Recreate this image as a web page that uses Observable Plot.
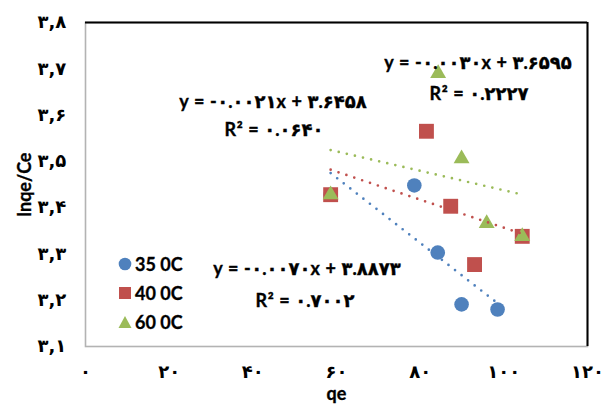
<!DOCTYPE html>
<html>
<head>
<meta charset="utf-8">
<script src="https://cdn.jsdelivr.net/npm/d3@7"></script>
<script src="https://cdn.jsdelivr.net/npm/@observablehq/plot@0.6"></script>
<style>
  body { margin: 0; background: #fff; }
  #wrap { position: relative; width: 605px; height: 407px; overflow: hidden; }
  .ann { position: absolute; transform: translate(-50%, -50%); white-space: nowrap;
         font-family: Lato, "DejaVu Sans", sans-serif; font-weight: bold; font-size: 18px; letter-spacing: 0.6px;
         color: #000; direction: ltr; -webkit-text-stroke: 0.35px #000; }
  .leg { position: absolute; display: flex; align-items: center; font-family: Lato, "DejaVu Sans", sans-serif;
         font-weight: bold; font-size: 18px; color: #000; -webkit-text-stroke: 0.3px #000; }
  .leg svg { margin-right: 3px; }
  svg g[aria-label="x-axis tick label"] text {
    font-family: "DejaVu Sans", sans-serif; font-size: 18px; font-weight: bold; }
  svg g[aria-label="x-axis label"] text, svg g[aria-label="y-axis label"] text {
    font-family: Lato, "DejaVu Sans", sans-serif; font-size: 18px; font-weight: bold; stroke: #000; stroke-width: 0.35px; }
</style>
</head>
<body>
<div id="wrap"></div>
<script>
// ---- data ----
const xTicks = [0, 20, 40, 60, 80, 100, 120];
const xTickLabels = ["۰", "۲۰", "۴۰", "۶۰", "۸۰", "۱۰۰", "۱۲۰"];
const yTicks = [3.1, 3.2, 3.3, 3.4, 3.5, 3.6, 3.7, 3.8];
const yTickLabels = ["۳,۱", "۳,۲", "۳,۳", "۳,۴", "۳,۵", "۳,۶", "۳,۷", "۳,۸"];

const seriesNames = ["35 0C", "40 0C", "60 0C"];
const seriesColors = ["#4F81BD", "#C0504D", "#9BBB59"];

const qe35 = [58.6, 78.6, 84.2, 89.9, 98.5];
const lnq35 = [3.428, 3.448, 3.303, 3.191, 3.180];
const qe40 = [58.6, 81.5, 87.3, 93.0, 104.4];
const lnq40 = [3.428, 3.565, 3.403, 3.277, 3.338];
const qe60 = [58.6, 84.3, 89.9, 95.9, 104.4];
const lnq60 = [3.428, 3.690, 3.506, 3.366, 3.338];

const eq35 = ["y = -۰.۰۰۷۰x + ۳.۸۸۷۳", "R² = ۰.۷۰۰۲"];
const eq40 = ["y = -۰.۰۰۳۰x + ۳.۶۵۹۵", "R² = ۰.۲۲۲۷"];
const eq60 = ["y = -۰.۰۰۲۱x + ۳.۶۴۵۸", "R² = ۰.۰۶۴۰"];

const xDomain = [0, 120];
const yDomain = [3.1, 3.8];

// ---- build tables ----
const toRows = (xs, ys, s) => xs.map((x, i) => ({qe: x, v: ys[i], s}));
const d35 = toRows(qe35, lnq35, seriesNames[0]);
const d40 = toRows(qe40, lnq40, seriesNames[1]);
const d60 = toRows(qe60, lnq60, seriesNames[2]);
const yTickRows = yTicks.map((t, i) => ({t, label: yTickLabels[i]}));

const trend = (data, color) => Plot.linearRegressionY(data, {
  x: "qe", y: "v", ci: 0, stroke: color, strokeWidth: 2.7,
  strokeDasharray: "0 8.3", strokeLinecap: "round"
});

const chart = Plot.plot({
  width: 605, height: 407,
  marginLeft: 85, marginRight: 18, marginTop: 22, marginBottom: 61,
  style: {fontFamily: "'DejaVu Sans', sans-serif", fontSize: "18px", fontWeight: "bold", color: "#000", background: "#fff"},
  x: {domain: xDomain},
  y: {domain: yDomain},
  marks: [
    Plot.frame({stroke: "#b3b3b3", strokeWidth: 1.6}),
    Plot.ruleY([yDomain[1]], {stroke: "#000", strokeWidth: 2}),
    Plot.ruleX([xDomain[1]], {stroke: "#000", strokeWidth: 2}),
    Plot.axisX({ticks: xTicks, tickFormat: (d) => xTickLabels[xTicks.indexOf(d)], tickSize: 0, tickPadding: 19,
      label: "qe", labelAnchor: "center", labelOffset: 53, labelArrow: "none"}),
    Plot.axisY({ticks: [], label: "lnqe/Ce", labelAnchor: "center", labelOffset: 67, labelArrow: "none"}),
    Plot.text(yTickRows, {y: "t", text: "label", frameAnchor: "left", textAnchor: "start", dx: -48,
      fontFamily: "'DejaVu Sans', sans-serif", fontSize: 18, fontWeight: "bold", fill: "#000"}),
    Plot.dot(d35, {x: "qe", y: "v", symbol: "circle", r: 7.3, fill: seriesColors[0]}),
    Plot.dot(d40, {x: "qe", y: "v", symbol: "square", r: 8.4, fill: seriesColors[1]}),
    Plot.dot(d60, {x: "qe", y: "v", symbol: "triangle", r: 5.9, fill: seriesColors[2]}),
    trend(d35, seriesColors[0]),
    trend(d40, seriesColors[1]),
    trend(d60, seriesColors[2])
  ]
});

const wrap = document.getElementById("wrap");
wrap.appendChild(chart);

// annotations (trendline equations)
const annLayout = [
  [eq60[0], 273, 101], [eq60[1], 274, 129],
  [eq40[0], 478, 62], [eq40[1], 479, 93],
  [eq35[0], 307, 268], [eq35[1], 305, 300]
];
for (const [t, x, y] of annLayout) {
  const d = document.createElement("div");
  d.className = "ann";
  d.textContent = t;
  d.style.left = x + "px";
  d.style.top = y + "px";
  wrap.appendChild(d);
}

// legend
const legSym = [
  `<svg width="14" height="14"><circle cx="7" cy="7" r="6.3" fill="${seriesColors[0]}"/></svg>`,
  `<svg width="14" height="14"><rect x="1" y="1" width="12" height="12" fill="${seriesColors[1]}"/></svg>`,
  `<svg width="14" height="14"><path d="M7 1 L13.5 13 L0.5 13 Z" fill="${seriesColors[2]}"/></svg>`
];
const legTop = [264, 293, 322];
seriesNames.forEach((n, i) => {
  const d = document.createElement("div");
  d.className = "leg";
  d.innerHTML = legSym[i] + "<span>" + n + "</span>";
  d.style.left = "118px";
  d.style.top = (legTop[i] - 10) + "px";
  d.style.height = "20px";
  wrap.appendChild(d);
});
</script>
</body>
</html>
